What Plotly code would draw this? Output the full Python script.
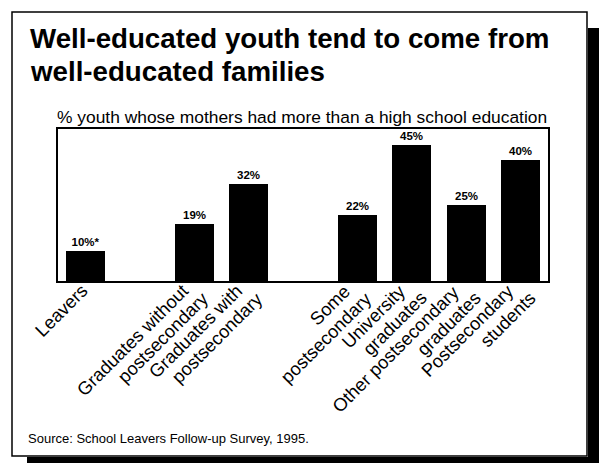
import math
import plotly.graph_objects as go

categories = ["Leavers", "Graduates without<br>postsecondary", "Graduates with<br>postsecondary",
              "Some<br>postsecondary", "University<br>graduates",
              "Other postsecondary<br>graduates", "Postsecondary<br>students"]
slots = [0, 2, 3, 5, 6, 7, 8]
values = [10, 19, 32, 22, 45, 25, 40]
value_labels = ["10%*", "19%", "32%", "22%", "45%", "25%", "40%"]

title_lines = ["Well-educated youth tend to come from", "well-educated families"]
subtitle = "% youth whose mothers had more than a high school education"
source = "Source: School Leavers Follow-up Survey, 1995."

W, H = 599, 463
L, R, T, B = 58, 548, 129, 281  # plot area in pixels
FONT = "Liberation Sans, Arial, Helvetica, sans-serif"
XMIN, XMAX = -0.5, 8.5
UNIT = (R - L) / (XMAX - XMIN)


def px(x):
    return (x - L) / (R - L)


def py(y):
    return (B - y) / (B - T)


fig = go.Figure()
fig.add_trace(go.Bar(
    x=slots, y=values, width=0.72,
    marker=dict(color="black", line=dict(width=0)),
    text=["<b>" + t + "</b>" for t in value_labels], textposition="outside", cliponaxis=False,
    textfont=dict(family=FONT, size=11.5, color="black"),
    hoverinfo="skip",
))

fig.update_layout(
    width=W, height=H,
    margin=dict(l=L, r=W - R, t=T, b=H - B, pad=0),
    paper_bgcolor="white", plot_bgcolor="white",
    showlegend=False, bargap=0,
    font=dict(family=FONT, color="black"),
)
fig.update_xaxes(
    range=[XMIN, XMAX], tickvals=slots, showticklabels=False,
    showgrid=False, zeroline=False, ticks="",
    showline=True, linecolor="black", linewidth=2, mirror=True,
)
fig.update_yaxes(
    range=[0, 50.3], showticklabels=False, showgrid=False, zeroline=False, ticks="",
    showline=True, linecolor="black", linewidth=1.5, mirror=True,
)

ann = []
ann.append(dict(text="<b>" + title_lines[0] + "</b>", x=px(28), y=py(56), xref="paper", yref="paper",
                xanchor="left", yanchor="bottom", showarrow=False,
                font=dict(family=FONT, size=27.7, color="black")))
ann.append(dict(text="<b>" + title_lines[1] + "</b>", x=px(28), y=py(89), xref="paper", yref="paper",
                xanchor="left", yanchor="bottom", showarrow=False,
                font=dict(family=FONT, size=27.7, color="black")))
ann.append(dict(text=subtitle, x=px(55), y=py(129), xref="paper", yref="paper",
                xanchor="left", yanchor="bottom", showarrow=False,
                font=dict(family=FONT, size=17.4, color="black")))
ann.append(dict(text=source, x=px(26), y=py(448), xref="paper", yref="paper",
                xanchor="left", yanchor="bottom", showarrow=False,
                font=dict(family=FONT, size=13, color="black")))

# rotated category labels, one annotation per line so the line spacing can be tight
LAB_SIZE = 18.3
box_h = LAB_SIZE * 1.3
tip_dx = box_h / math.sqrt(2)
for xs, cat in zip(slots, categories):
    lines = cat.split("<br>")
    tick_px = L + (xs - XMIN) * UNIT
    for j, line in enumerate(lines):
        ex = (2 if len(lines) == 1 else -7) + j * 21   # pixel offset of the line end from the tick
        ey = 284 + j * 7
        ann.append(dict(text=line, x=px(tick_px + ex + tip_dx - 11), y=py(ey - 5),
                        xref="paper", yref="paper",
                        xanchor="right", yanchor="top", textangle=-45, showarrow=False, borderpad=0,
                        font=dict(family=FONT, size=LAB_SIZE, color="black")))
fig.update_layout(annotations=ann)

shapes = []
# shadow
shapes.append(dict(type="rect", xref="paper", yref="paper", x0=px(588), x1=px(599), y0=py(463), y1=py(28),
                   fillcolor="black", line=dict(width=0), layer="above"))
shapes.append(dict(type="rect", xref="paper", yref="paper", x0=px(27), x1=px(599), y0=py(463), y1=py(457),
                   fillcolor="black", line=dict(width=0), layer="above"))
# frame
shapes.append(dict(type="rect", xref="paper", yref="paper", x0=px(12), x1=px(587), y0=py(456), y1=py(12),
                   line=dict(color="black", width=1.5), fillcolor="rgba(0,0,0,0)", layer="above"))
fig.update_layout(shapes=shapes)

fig.write_html("out.html", config={"displayModeBar": False},
               post_script="document.body.style.margin='0';document.body.style.overflow='hidden';")
